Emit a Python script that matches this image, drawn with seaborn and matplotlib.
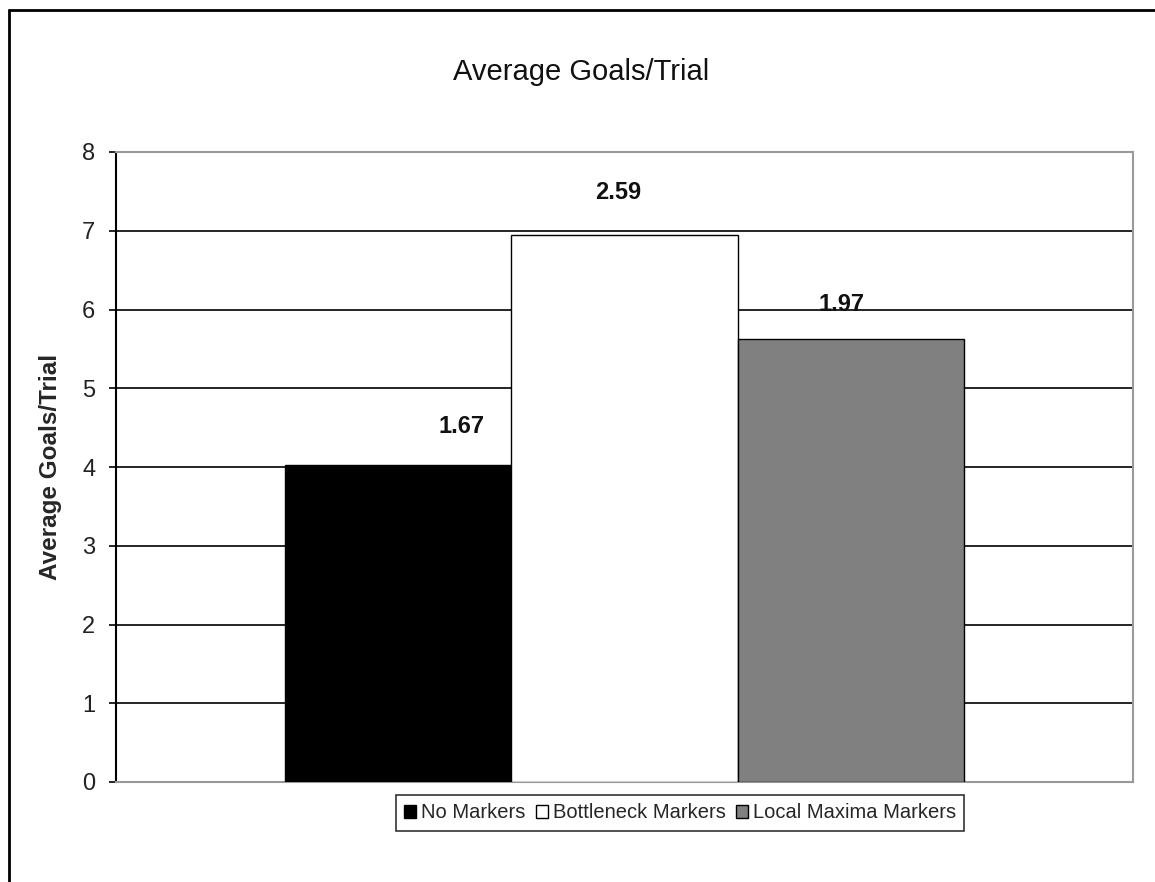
import matplotlib
matplotlib.use("Agg")
import matplotlib.pyplot as plt
from matplotlib.lines import Line2D
from matplotlib.patches import Patch
import pandas as pd
import seaborn as sns

# Chart data
series = ["No Markers", "Bottleneck Markers", "Local Maxima Markers"]
bar_values = [4.02, 6.95, 5.62]
value_labels = ["1.67", "2.59", "1.97"]
y_ticks = [0, 1, 2, 3, 4, 5, 6, 7, 8]

# Styling
colors = {"No Markers": "#000000", "Bottleneck Markers": "#FFFFFF",
          "Local Maxima Markers": "#808080"}
label_nudge_px = [(63, 39), (-6, 42), (-9, 35)]

sns.set_theme(style="white")
plt.rcParams["font.family"] = ["Liberation Sans", "DejaVu Sans"]

W, H, DPI = 1155, 882, 100
fig = plt.figure(figsize=(W / DPI, H / DPI), dpi=DPI)
fig.patch.set_facecolor("white")

left, right, bottom, top = 116, 1133, 782, 152
ax = fig.add_axes([left / W, 1 - bottom / H, (right - left) / W, (bottom - top) / H])

df = pd.DataFrame({"group": [""] * len(series), "series": series, "value": bar_values})
sns.barplot(data=df, x="group", y="value", hue="series", hue_order=series,
            palette=colors, width=0.668, edgecolor="black", linewidth=1.0,
            saturation=1, legend=False, ax=ax, zorder=3)

ax.set_xlim(-0.5, 0.5)
ax.set_ylim(0, 8)
ax.set_yticks(y_ticks)
ax.set_yticklabels([str(t) for t in y_ticks], fontsize=17, color="#222222")
ax.set_xticks([])
ax.set_xlabel("")
ax.set_ylabel("Average Goals/Trial", fontsize=17.5, fontweight="bold", labelpad=14)
ax.tick_params(axis="y", left=True, length=5, width=1.2, color="black", pad=10)

# horizontal gridlines
for t in y_ticks[1:-1]:
    ax.axhline(t, color="black", lw=1.2, zorder=1)

for side in ["top", "right", "bottom"]:
    ax.spines[side].set_color("#999999")
    ax.spines[side].set_linewidth(1.5)
ax.spines["left"].set_color("black")
ax.spines["left"].set_linewidth(1.5)

# value labels above each bar
bars = [p for p in ax.patches][: len(series)]
for bar, text, (dx, dy) in zip(bars, value_labels, label_nudge_px):
    ax.annotate(text, (bar.get_x() + bar.get_width() / 2, bar.get_height()),
                xytext=(dx * 72 / DPI, dy * 72 / DPI), textcoords="offset points",
                ha="center", va="center", fontsize=17, fontweight="bold",
                family=["Liberation Sans Narrow", "Liberation Sans"],
                color="#111111", zorder=5)

fig.text(581 / W, 1 - 72 / H, "Average Goals/Trial", ha="center", va="center",
         fontsize=21, color="#111111")

handles = [Patch(facecolor=colors[s], edgecolor="black", linewidth=1.0) for s in series]
leg = fig.legend(handles, series, loc="center", bbox_to_anchor=(680 / W, 1 - 813 / H),
                 ncol=3, fontsize=14.5, frameon=True, fancybox=False,
                 handlelength=0.6, handleheight=0.6, handletextpad=0.25,
                 columnspacing=0.5, borderpad=0.4, borderaxespad=0)
leg.get_frame().set_edgecolor("black")
leg.get_frame().set_linewidth(1.2)

# outer chart border (left and top edges)
fig.add_artist(Line2D([9 / W, 9 / W], [0, 1 - 10 / H], color="black", lw=2,
                      transform=fig.transFigure))
fig.add_artist(Line2D([9 / W, 1], [1 - 10 / H, 1 - 10 / H], color="black", lw=2,
                      transform=fig.transFigure))

fig.savefig("out.png", dpi=DPI)
